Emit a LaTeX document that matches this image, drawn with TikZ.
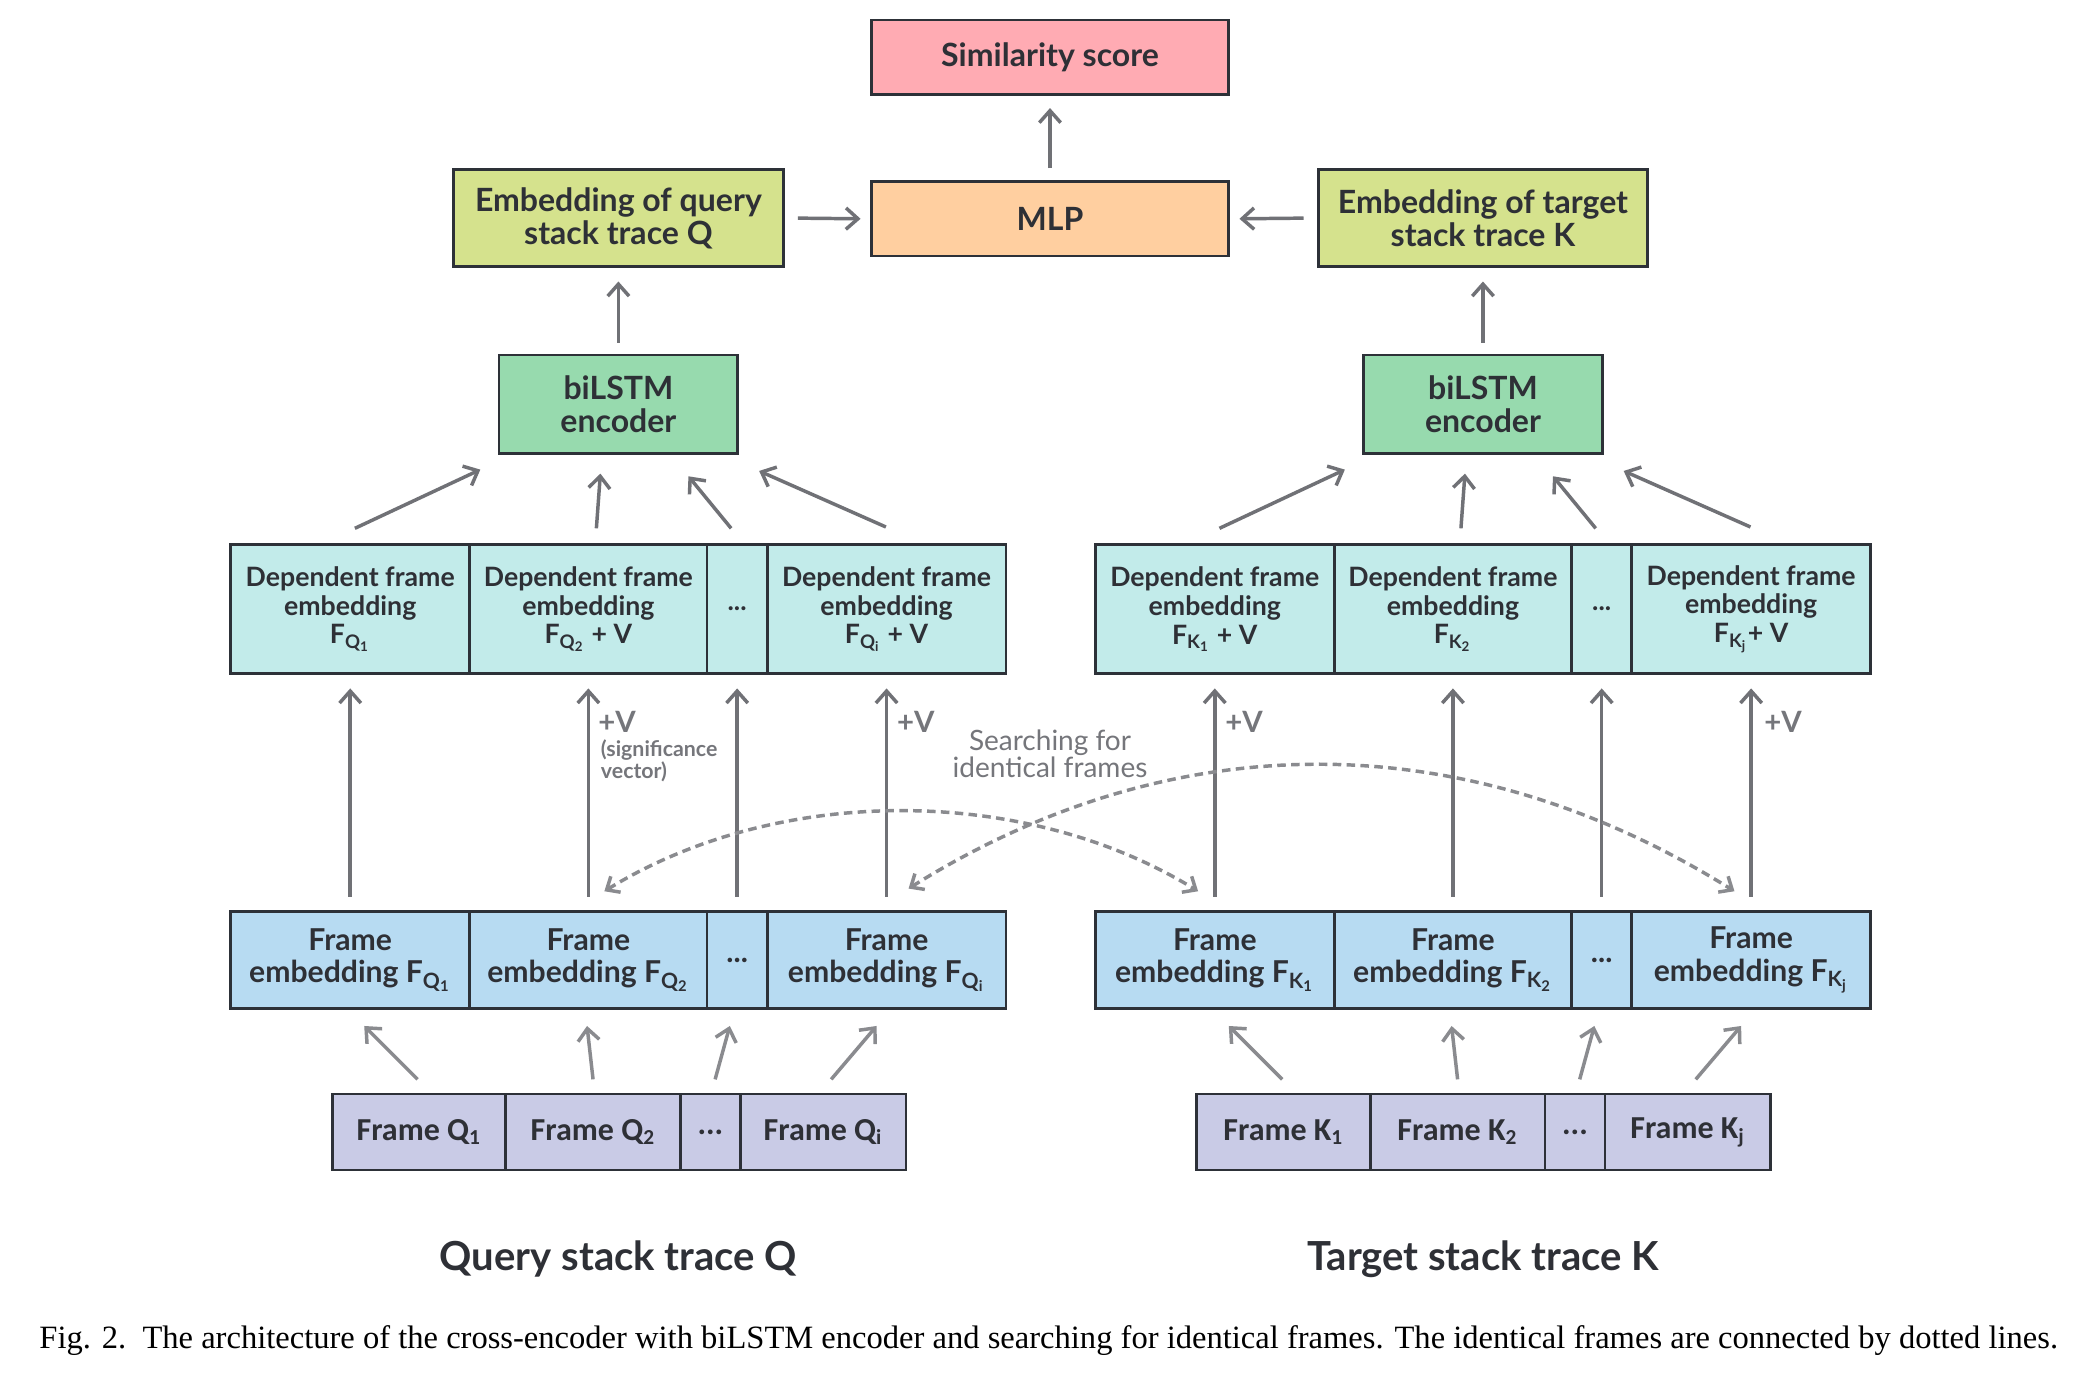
\documentclass[tikz,border=0pt]{standalone}
\usepackage{fontspec}
\setmainfont{Lato}
\newfontfamily\calibfont{Carlito}
\newfontfamily\capfont{Liberation Serif}
\usetikzlibrary{arrows.meta,calc}

\definecolor{boxline}{HTML}{2D3138}
\definecolor{arrgray}{HTML}{707176}
\definecolor{lightarr}{HTML}{8A8B8F}
\definecolor{txt}{HTML}{2E3036}
\definecolor{labgray}{HTML}{75767B}
\definecolor{simfill}{HTML}{FFABB3}
\definecolor{mlpfill}{HTML}{FFCFA0}
\definecolor{embfill}{HTML}{D5E28D}
\definecolor{lstmfill}{HTML}{97DAAE}
\definecolor{depfill}{HTML}{C2EBEA}
\definecolor{femfill}{HTML}{B7DBF2}
\definecolor{frmfill}{HTML}{C9CBE6}

\newcommand{\Fsub}[2]{F\textsubscript{#1\textsubscript{#2}}}

\begin{document}
\begin{tikzpicture}[x=0.5pt,y=-0.5pt,
  box/.style={draw=boxline, line width=1pt, inner sep=0pt, align=center, text=txt},
  wd/.style={minimum width=#1*0.5pt},
  ht/.style={minimum height=#1*0.5pt},
  bigtxt/.style={font=\bfseries\fontsize{12}{12.5}\selectfont},
  deptxt/.style={font=\bfseries\fontsize{10}{10.8}\selectfont},
  femtxt/.style={font=\bfseries\fontsize{11.3}{12.2}\selectfont},
  frmtxt/.style={font=\calibfont\bfseries\fontsize{12}{14}\selectfont},
  arr/.style={draw=arrgray, line width=1.3pt, -{Straight Barb[length=4.5pt,width=8pt]}},
  thinarr/.style={arr, draw=lightarr},
  dasharr/.style={draw=lightarr, line width=1.3pt, dash pattern=on 3.2pt off 2pt,
    {Straight Barb[length=4pt,width=7pt]}-{Straight Barb[length=4pt,width=7pt]}},
  vlab/.style={text=labgray, font=\bfseries\fontsize{11}{12}\selectfont, inner sep=0pt},
]
  \useasboundingbox (0,0) rectangle (1568,1036);
  \fill[white] (0,0) rectangle (1568,1036);

  % Score, MLP and trace embeddings
  \node[box, fill=simfill, wd=268, ht=56, bigtxt] (sim) at (787,43) {Similarity score};
  \node[box, fill=mlpfill, wd=268, ht=56, bigtxt] (mlp) at (787,164) {MLP};
  \node[box, fill=embfill, wd=247, ht=73, bigtxt] (embQ) at (463.5,163.5) {Embedding of query\\stack trace Q};
  \node[box, fill=embfill, wd=247, ht=73, bigtxt] (embK) at (1111.5,163.5) {Embedding of target\\stack trace K};

  % Encoders
  \node[box, fill=lstmfill, wd=179, ht=74, bigtxt] (lstmQ) at (463.5,303) {biLSTM\\encoder};
  \node[box, fill=lstmfill, wd=179, ht=74, bigtxt] (lstmK) at (1111.5,303) {biLSTM\\encoder};

  % Dependent frame embeddings
  \node[box, fill=depfill, wd=179, ht=97, deptxt] (dQ1) at (262.5,456.5) {Dependent frame\\embedding\\\Fsub{Q}{1}};
  \node[box, fill=depfill, wd=178, ht=97, deptxt] (dQ2) at (441,456.5) {Dependent frame\\embedding\\\Fsub{Q}{2} + V};
  \node[box, fill=depfill, wd=45, ht=97, deptxt] (dQ3) at (552.5,456.5) {...};
  \node[box, fill=depfill, wd=179, ht=97, deptxt] (dQ4) at (664.5,456.5) {Dependent frame\\embedding\\\Fsub{Q}{i} + V};
  \node[box, fill=depfill, wd=179, ht=97, deptxt] (dK1) at (910.5,456.5) {Dependent frame\\embedding\\\Fsub{K}{1} + V};
  \node[box, fill=depfill, wd=178, ht=97, deptxt] (dK2) at (1089,456.5) {Dependent frame\\embedding\\\Fsub{K}{2}};
  \node[box, fill=depfill, wd=45, ht=97, deptxt] (dK3) at (1200.5,456.5) {...};
  \node[box, fill=depfill, wd=179, ht=97, deptxt] (dK4) at (1312.5,456.5) {Dependent frame\\embedding\\\Fsub{K}{j}+ V};

  % Frame embeddings
  \node[box, fill=femfill, wd=179, ht=73, femtxt] (eQ1) at (262.5,719.5) {Frame\\embedding \Fsub{Q}{1}};
  \node[box, fill=femfill, wd=178, ht=73, femtxt] (eQ2) at (441,719.5) {Frame\\embedding \Fsub{Q}{2}};
  \node[box, fill=femfill, wd=45, ht=73, femtxt] (eQ3) at (552.5,719.5) {...};
  \node[box, fill=femfill, wd=179, ht=73, femtxt] (eQ4) at (664.5,719.5) {Frame\\embedding \Fsub{Q}{i}};
  \node[box, fill=femfill, wd=179, ht=73, femtxt] (eK1) at (910.5,719.5) {Frame\\embedding \Fsub{K}{1}};
  \node[box, fill=femfill, wd=178, ht=73, femtxt] (eK2) at (1089,719.5) {Frame\\embedding \Fsub{K}{2}};
  \node[box, fill=femfill, wd=45, ht=73, femtxt] (eK3) at (1200.5,719.5) {...};
  \node[box, fill=femfill, wd=179, ht=73, femtxt] (eK4) at (1312.5,719.5) {Frame\\embedding \Fsub{K}{j}};

  % Raw frames
  \node[box, fill=frmfill, wd=130, ht=57, frmtxt] (fQ1) at (314,848.5) {Frame Q\textsubscript{1}};
  \node[box, fill=frmfill, wd=131, ht=57, frmtxt] (fQ2) at (444.5,848.5) {Frame Q\textsubscript{2}};
  \node[box, fill=frmfill, wd=45, ht=57, frmtxt] (fQ3) at (532.5,848.5) {...};
  \node[box, fill=frmfill, wd=124, ht=57, frmtxt] (fQ4) at (617,848.5) {Frame Q\textsubscript{i}};
  \node[box, fill=frmfill, wd=130, ht=57, frmtxt] (fK1) at (962,848.5) {Frame K\textsubscript{1}};
  \node[box, fill=frmfill, wd=131, ht=57, frmtxt] (fK2) at (1092.5,848.5) {Frame K\textsubscript{2}};
  \node[box, fill=frmfill, wd=45, ht=57, frmtxt] (fK3) at (1180.5,848.5) {...};
  \node[box, fill=frmfill, wd=124, ht=57, frmtxt] (fK4) at (1265,848.5) {Frame K\textsubscript{j}};

  % Connectors on both sides
  \foreach \s in {Q,K}{
    \draw[thinarr] ([xshift=-0.5pt,yshift=5pt]f\s1.north) -- ([xshift=5.25pt,yshift=-6pt]e\s1.south);
    \draw[thinarr] ([yshift=5pt]f\s2.north) -- ([xshift=-0.5pt,yshift=-6pt]e\s2.south);
    \draw[thinarr] ([xshift=1.75pt,yshift=5pt]f\s3.north) -- ([xshift=-2.75pt,yshift=-6pt]e\s3.south);
    \draw[thinarr] ([xshift=3pt,yshift=5pt]f\s4.north) -- ([xshift=-3.75pt,yshift=-6pt]e\s4.south);
    \foreach \k in {1,...,4}
      \draw[arr] ([yshift=5pt]e\s\k.north) -- ([yshift=-5pt]d\s\k.south);
    \draw[arr] ([xshift=1.75pt,yshift=5.5pt]d\s1.north) -- ([xshift=-51.75pt,yshift=-5.5pt]lstm\s.south);
    \draw[arr] ([xshift=3pt,yshift=5.5pt]d\s2.north) -- ([xshift=-6.75pt,yshift=-7pt]lstm\s.south);
    \draw[arr] ([xshift=-2.25pt,yshift=5.5pt]d\s3.north) -- ([xshift=26.25pt,yshift=-8pt]lstm\s.south);
    \draw[arr] ([xshift=-0.25pt,yshift=6pt]d\s4.north) -- ([xshift=52.75pt,yshift=-6pt]lstm\s.south);
    \draw[arr] ([yshift=4pt]lstm\s.north) -- ([yshift=-5pt]emb\s.south);
  }
  \draw[arr] ([xshift=5pt]embQ.east) -- ([xshift=-3.5pt]mlp.west);
  \draw[arr] ([xshift=-5pt]embK.west) -- ([xshift=3.5pt]mlp.east);
  \draw[arr] ([yshift=4.5pt]mlp.north) -- ([yshift=-4.5pt]sim.south);

  % Identical frames
  \draw[dasharr] ([xshift=6pt,yshift=7pt]eQ2.north) .. controls +(130,-80) and +(-130,-80) .. ([xshift=-6.25pt,yshift=7pt]eK1.north);
  \draw[dasharr] ([xshift=8.25pt,yshift=8pt]eQ4.north) .. controls +(200,-125) and +(-200,-125) .. ([xshift=-6.25pt,yshift=7pt]eK4.north);
  \node[text=labgray, align=center, font=\fontsize{10.5}{10}\selectfont] (search) at (787,565) {Searching for\\identical frames};

  % Significance vector labels
  \node[vlab, anchor=west] (vQ2) at (448,541) {+V};
  \node[vlab, anchor=north west, align=left, font=\bfseries\fontsize{8}{8.2}\selectfont] (sig) at (450,554) {(significance\\vector)};
  \node[vlab, anchor=west] (vQ4) at (672,541) {+V};
  \node[vlab, anchor=west] (vK1) at (918,541) {+V};
  \node[vlab, anchor=west] (vK4) at (1322,541) {+V};

  % Titles and caption
  \node[text=txt, font=\bfseries\fontsize{15}{18}\selectfont] (titleQ) at (463.5,944) {Query stack trace Q};
  \node[text=txt, font=\bfseries\fontsize{15}{18}\selectfont] (titleK) at (1111.5,944) {Target stack trace K};
  \node[font=\capfont\fontsize{12.2}{13}\selectfont] (cap) at (786,1005) {Fig. 2.\hspace{0.5em}The architecture of the cross-encoder with biLSTM encoder and searching for identical frames. The identical frames are connected by dotted lines.};
\end{tikzpicture}
\end{document}
